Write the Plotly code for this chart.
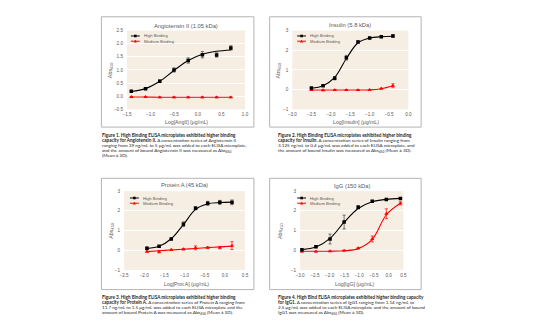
import plotly.graph_objects as go

W, H = 555, 333

# ---------------- data ----------------
# Angiotensin II
angii_log = [-1.408, -1.107, -0.806, -0.505, -0.204, 0.097, 0.398, 0.699]
angii_high = [0.19, 0.28, 0.57, 1.00, 1.36, 1.58, 1.57, 1.84]
angii_high_sd = [0.03, 0.03, 0.05, 0.08, 0.10, 0.12, 0.08, 0.08]
angii_high_fit = [0.18, 0.29, 0.57, 0.98, 1.36, 1.60, 1.71, 1.76]
angii_med = [-0.03, -0.03, -0.04, -0.04, -0.04, -0.04, -0.04, -0.04]
angii_med_sd = [0.02, 0.02, 0.02, 0.02, 0.02, 0.02, 0.02, 0.02]
angii_med_fit = [-0.03, -0.03, -0.04, -0.04, -0.04, -0.04, -0.04, -0.04]

# Insulin
ins_log = [-2.505, -2.204, -1.903, -1.602, -1.301, -1.000, -0.699, -0.398]
ins_high = [0.08, 0.20, 0.58, 1.62, 2.42, 2.62, 2.68, 2.72]
ins_high_sd = [0.03, 0.04, 0.08, 0.12, 0.06, 0.04, 0.04, 0.06]
ins_high_fit = [0.07, 0.20, 0.62, 1.58, 2.38, 2.62, 2.69, 2.71]
ins_med = [-0.02, -0.03, -0.02, -0.02, -0.02, -0.01, 0.05, 0.20]
ins_med_sd = [0.02, 0.02, 0.02, 0.02, 0.02, 0.02, 0.03, 0.10]
ins_med_fit = [-0.02, -0.02, -0.02, -0.02, -0.02, -0.01, 0.05, 0.20]

# Protein A
prota_log = [-1.932, -1.631, -1.329, -1.028, -0.727, -0.426, -0.125, 0.176]
prota_high = [0.10, 0.20, 0.57, 1.32, 2.13, 2.38, 2.43, 2.43]
prota_high_sd = [0.05, 0.04, 0.04, 0.12, 0.08, 0.10, 0.10, 0.12]
prota_high_fit = [0.09, 0.20, 0.58, 1.30, 2.07, 2.36, 2.42, 2.44]
prota_med = [-0.07, -0.08, 0.02, 0.05, 0.12, 0.13, 0.13, 0.23]
prota_med_sd = [0.04, 0.06, 0.03, 0.04, 0.10, 0.04, 0.06, 0.20]
prota_med_fit = [-0.07, -0.03, 0.01, 0.05, 0.09, 0.13, 0.17, 0.21]

# IgG
igg_log = [-2.942, -2.465, -1.987, -1.510, -1.033, -0.556, -0.079, 0.398]
igg_high = [0.02, 0.18, 0.57, 1.43, 2.18, 2.48, 2.58, 2.63]
igg_high_sd = [0.03, 0.05, 0.25, 0.35, 0.08, 0.05, 0.05, 0.05]
igg_high_fit = [0.03, 0.16, 0.60, 1.42, 2.12, 2.46, 2.58, 2.63]
igg_med = [-0.07, -0.07, -0.05, -0.02, 0.10, 0.57, 1.85, 2.38]
igg_med_sd = [0.02, 0.02, 0.02, 0.02, 0.03, 0.15, 0.25, 0.08]
igg_med_fit = [-0.05, -0.05, -0.05, -0.03, 0.08, 0.55, 1.80, 2.38]

series_names = ["High Binding", "Medium Binding"]

captions = [
    ["<b>Figure 1. High Binding ELISA microplates exhibited higher binding</b>",
     "<b>capacity for Angiotensin II.</b> A concentration series of Angiotensin II",
     "ranging from 39 ng/mL to 5 μg/mL was added to each ELISA microplate,",
     "and the amount of bound Angiotensin II was measured as Abs<sub>450</sub>",
     "(Mean ± SD)."],
    ["<b>Figure 2. High Binding ELISA microplates exhibited higher binding</b>",
     "<b>capacity for Insulin.</b> A concentration series of Insulin ranging from",
     "3.125 ng/mL to 0.4 μg/mL was added to each ELISA microplate, and",
     "the amount of bound Insulin was measured as Abs<sub>450</sub> (Mean ± SD)."],
    ["<b>Figure 3. High Binding ELISA microplates exhibited higher binding</b>",
     "<b>capacity for Protein A.</b> A concentration series of Protein A ranging from",
     "11.7 ng/mL to 1.5 μg/mL was added to each ELISA microplate and the",
     "amount of bound Protein A was measured as Abs<sub>450</sub> (Mean ± SD)."],
    ["<b>Figure 4. High Bind ELISA microplates exhibited higher binding capacity</b>",
     "<b>for IgG1.</b> A concentration series of IgG1 ranging from 1.14 ng/mL to",
     "2.5 μg/mL was added to each ELISA microplate and the amount of bound",
     "IgG1 was measured as Abs<sub>450</sub> (Mean ± SD)."],
]

panels = [
    dict(title="Angiotensin II (1.05 kDa)", xtitle="Log[AngII] (μg/mL)",
         x=angii_log, hi=angii_high, hi_sd=angii_high_sd, hi_fit=angii_high_fit,
         md=angii_med, md_sd=angii_med_sd, md_fit=angii_med_fit,
         xr=[-1.5, 1.0], yr=[-0.5, 2.5], ydt=0.5, yfmt=".1f",
         plot=(124, 244, 29, 109), box=(98, 253, 15, 127),
         title_xy=(184, 24), xt_xy=(184, 122), yt_xy=(108, 69),
         leg=(128, 34.5), cap=(97, 135)),
    dict(title="Insulin (5.8 kDa)", xtitle="Log[Insulin] (μg/mL)",
         x=ins_log, hi=ins_high, hi_sd=ins_high_sd, hi_fit=ins_high_fit,
         md=ins_med, md_sd=ins_med_sd, md_fit=ins_med_fit,
         xr=[-3.0, 0.0], yr=[-1, 3], ydt=1, yfmt="d",
         plot=(292, 410, 29, 109), box=(269, 423, 15, 127),
         title_xy=(351, 23.5), xt_xy=(357, 122), yt_xy=(278, 69),
         leg=(297, 34.5), cap=(275, 135)),
    dict(title="Protein A (45 kDa)", xtitle="Log[Prot A] (μg/mL)",
         x=prota_log, hi=prota_high, hi_sd=prota_high_sd, hi_fit=prota_high_fit,
         md=prota_med, md_sd=prota_med_sd, md_fit=prota_med_fit,
         xr=[-2.5, 0.5], yr=[-1, 3], ydt=1, yfmt="d",
         plot=(121, 244, 192, 272), box=(98, 253, 179, 292),
         title_xy=(182, 186), xt_xy=(184, 286), yt_xy=(108, 232),
         leg=(127, 199), cap=(97, 299.5)),
    dict(title="IgG (150 kDa)", xtitle="Log[IgG] (μg/mL)",
         x=igg_log, hi=igg_high, hi_sd=igg_high_sd, hi_fit=igg_high_fit,
         md=igg_med, md_sd=igg_med_sd, md_fit=igg_med_fit,
         xr=[-3.0, 0.5], yr=[-1, 3], ydt=1, yfmt="d",
         plot=(300, 405, 192, 272), box=(269, 423, 179, 292),
         title_xy=(353, 186.5), xt_xy=(356, 286), yt_xy=(280, 232),
         leg=(297, 199), cap=(275, 299.5)),
]

# ---------------- styling ----------------
TXT = "#595959"
FONT = "Liberation Sans"
HI_COL = "#000000"
MD_COL = "#FF0000"
BEIGE = "#F7EEE3"
CAP_LINE = 5.2  # caption line pitch, px


def fx(p):
    return p / W


def fy(p):
    return 1 - p / H


fig = go.Figure()
layout = dict(
    width=W, height=H, margin=dict(l=0, r=0, t=0, b=0),
    paper_bgcolor="white", plot_bgcolor=BEIGE, showlegend=False,
    font=dict(family=FONT, color=TXT),
)
shapes, annotations = [], []

for i, p in enumerate(panels, start=1):
    xa = "x" if i == 1 else f"x{i}"
    ya = "y" if i == 1 else f"y{i}"
    l, r, t, b = p["plot"]
    layout["xaxis" if i == 1 else f"xaxis{i}"] = dict(
        domain=[fx(l), fx(r)], range=p["xr"], dtick=0.5, tick0=0,
        tickformat=".1f", showgrid=False, zeroline=False, showline=False,
        ticks="", ticklabelstandoff=1, anchor=ya,
        tickfont=dict(size=4.6, color=TXT, family=FONT),
    )
    layout["yaxis" if i == 1 else f"yaxis{i}"] = dict(
        domain=[fy(b), fy(t)], range=p["yr"], dtick=p["ydt"], tick0=0,
        tickformat=p["yfmt"], showgrid=True, gridcolor="white", gridwidth=0.8,
        zeroline=False, showline=False, ticks="", ticklabelstandoff=3,
        anchor=xa, tickfont=dict(size=4.6, color=TXT, family=FONT),
    )

    # fitted curves
    fig.add_trace(go.Scatter(x=p["x"], y=p["md_fit"], mode="lines",
                             line=dict(color=MD_COL, width=1.1, shape="spline"),
                             xaxis=xa, yaxis=ya, hoverinfo="skip"))
    fig.add_trace(go.Scatter(x=p["x"], y=p["hi_fit"], mode="lines",
                             line=dict(color=HI_COL, width=1.1, shape="spline"),
                             xaxis=xa, yaxis=ya, hoverinfo="skip"))
    # measured points with SD
    fig.add_trace(go.Scatter(x=p["x"], y=p["md"], mode="markers", name=series_names[1],
                             marker=dict(symbol="triangle-up", size=3.8, color=MD_COL),
                             error_y=dict(type="data", array=p["md_sd"], color=MD_COL,
                                          thickness=0.7, width=1.6),
                             xaxis=xa, yaxis=ya))
    fig.add_trace(go.Scatter(x=p["x"], y=p["hi"], mode="markers", name=series_names[0],
                             marker=dict(symbol="square", size=3.5, color=HI_COL),
                             error_y=dict(type="data", array=p["hi_sd"], color="#404040",
                                          thickness=0.7, width=1.6),
                             xaxis=xa, yaxis=ya))

    # chart frame
    bl, br, bt, bb = p["box"]
    shapes.append(dict(type="rect", xref="paper", yref="paper",
                       x0=fx(bl), x1=fx(br), y0=fy(bb), y1=fy(bt),
                       line=dict(color="#B4B4B4", width=1), fillcolor="rgba(0,0,0,0)",
                       layer="below"))

    # titles
    tx, ty = p["title_xy"]
    annotations.append(dict(text=p["title"], x=fx(tx), y=fy(ty), xref="paper", yref="paper",
                            showarrow=False, xanchor="center", yanchor="middle",
                            font=dict(size=5.8, color=TXT, family=FONT)))
    xx, xy = p["xt_xy"]
    annotations.append(dict(text=p["xtitle"], x=fx(xx), y=fy(xy), xref="paper", yref="paper",
                            showarrow=False, xanchor="center", yanchor="middle",
                            font=dict(size=5.2, color=TXT, family=FONT)))
    yx, yy = p["yt_xy"]
    annotations.append(dict(text="Abs<sub>450</sub>", x=fx(yx), y=fy(yy), xref="paper",
                            yref="paper", showarrow=False, textangle=-90,
                            xanchor="center", yanchor="middle",
                            font=dict(size=5.4, color=TXT, family=FONT)))

    # legend keys
    lx, ly = p["leg"]
    for k, (col, name) in enumerate([(HI_COL, series_names[0]), (MD_COL, series_names[1])]):
        yk = ly + k * 5.3
        shapes.append(dict(type="line", xref="paper", yref="paper",
                           x0=fx(lx), x1=fx(lx + 9), y0=fy(yk), y1=fy(yk),
                           line=dict(color=col, width=1)))
        cx = lx + 4.5
        if k == 0:
            shapes.append(dict(type="rect", xref="paper", yref="paper",
                               x0=fx(cx - 1.3), x1=fx(cx + 1.3), y0=fy(yk + 1.3), y1=fy(yk - 1.3),
                               line=dict(width=0), fillcolor=col))
        else:
            path = (f"M {fx(cx - 1.6)} {fy(yk + 1.2)} L {fx(cx + 1.6)} {fy(yk + 1.2)} "
                    f"L {fx(cx)} {fy(yk - 1.6)} Z")
            shapes.append(dict(type="path", xref="paper", yref="paper", path=path,
                               line=dict(width=0), fillcolor=col))
        annotations.append(dict(text=name, x=fx(lx + 11), y=fy(yk), xref="paper", yref="paper",
                                showarrow=False, xanchor="left", yanchor="middle",
                                font=dict(size=4.2, color=TXT, family=FONT)))

    # caption, one annotation per line for a tight line pitch
    cx0, cy0 = p["cap"]
    for k, line in enumerate(captions[i - 1]):
        annotations.append(dict(text=line, x=fx(cx0), y=fy(cy0 + k * CAP_LINE), xref="paper",
                                yref="paper", showarrow=False, xanchor="left",
                                yanchor="middle", align="left",
                                font=dict(size=4.6, color="#262626", family="Lato")))

layout["shapes"] = shapes
layout["annotations"] = annotations
fig.update_layout(**layout)
fig.write_html("out.html")
